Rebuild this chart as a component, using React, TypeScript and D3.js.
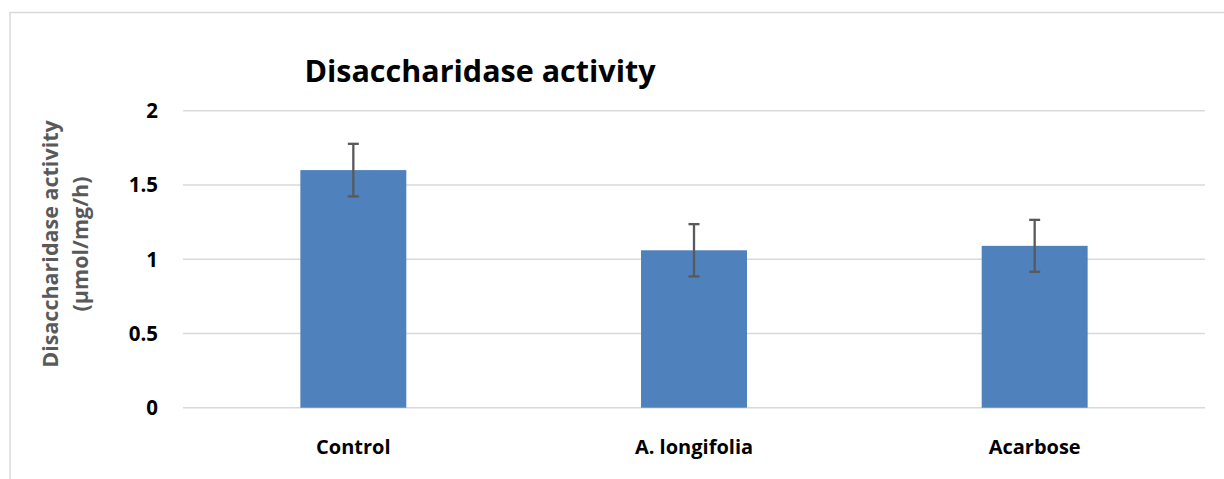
import React from "react";
import * as d3 from "d3";

const categories = ["Control", "A. longifolia", "Acarbose"];
const values = [1.6, 1.06, 1.09];
const errors = [0.177, 0.176, 0.175];
const yTicks = [0, 0.5, 1, 1.5, 2];
const chartTitle = "Disaccharidase activity";
const yTitleLines = ["Disaccharidase activity", "(µmol/mg/h)"];

const W = 1224;
const H = 479;
const FONT = "'Open Sans', sans-serif";

export default function App() {
  const x = d3.scaleBand<string>().domain(categories).range([183, 1205]).padding(0);
  const y = d3.scaleLinear().domain([0, 2]).range([407.7, 110.7]);
  const barW = x.bandwidth() * 0.311;

  return (
    <svg
      width={W}
      height={H}
      style={{ position: "absolute", left: 0, top: 0, background: "#fff" }}
    >
      <rect x={10} y={12.5} width={1240} height={500} fill="#fff" stroke="#d9d9d9" strokeWidth={1.5} />
      {yTicks.map((t) => (
        <g key={t}>
          <line x1={183} x2={1205} y1={y(t)} y2={y(t)} stroke="#d9d9d9" strokeWidth={1.5} />
          <text
            x={158}
            y={y(t)}
            dy="0.36em"
            textAnchor="end"
            fontFamily={FONT}
            fontWeight="bold"
            fontSize={20.5}
            fill="#000"
          >
            {t}
          </text>
        </g>
      ))}
      {categories.map((c, i) => {
        const cx = (x(c) as number) + x.bandwidth() / 2;
        return (
          <g key={c}>
            <rect x={cx - barW / 2} y={y(values[i])} width={barW} height={y(0) - y(values[i])} fill="#4f81bd" />
            <line x1={cx} x2={cx} y1={y(values[i] + errors[i])} y2={y(values[i] - errors[i])} stroke="#595959" strokeWidth={2.3} />
            <line x1={cx - 5.5} x2={cx + 5.5} y1={y(values[i] + errors[i])} y2={y(values[i] + errors[i])} stroke="#595959" strokeWidth={2.3} />
            <line x1={cx - 5.5} x2={cx + 5.5} y1={y(values[i] - errors[i])} y2={y(values[i] - errors[i])} stroke="#595959" strokeWidth={2.3} />
            <text
              x={cx}
              y={454}
              textAnchor="middle"
              fontFamily={FONT}
              fontWeight="bold"
              fontSize={20}
              fill="#000"
            >
              {c}
            </text>
          </g>
        );
      })}
      <text x={480} y={82} textAnchor="middle" fontFamily={FONT} fontWeight="bold" fontSize={30.5} fill="#000">
        {chartTitle}
      </text>
      <g transform="translate(0,244) rotate(-90)">
        {yTitleLines.map((l, i) => (
          <text
            key={l}
            x={0}
            y={58 + i * 30}
            textAnchor="middle"
            fontFamily={FONT}
            fontWeight="bold"
            fontSize={21.5}
            fill="#595959"
          >
            {l}
          </text>
        ))}
      </g>
    </svg>
  );
}
